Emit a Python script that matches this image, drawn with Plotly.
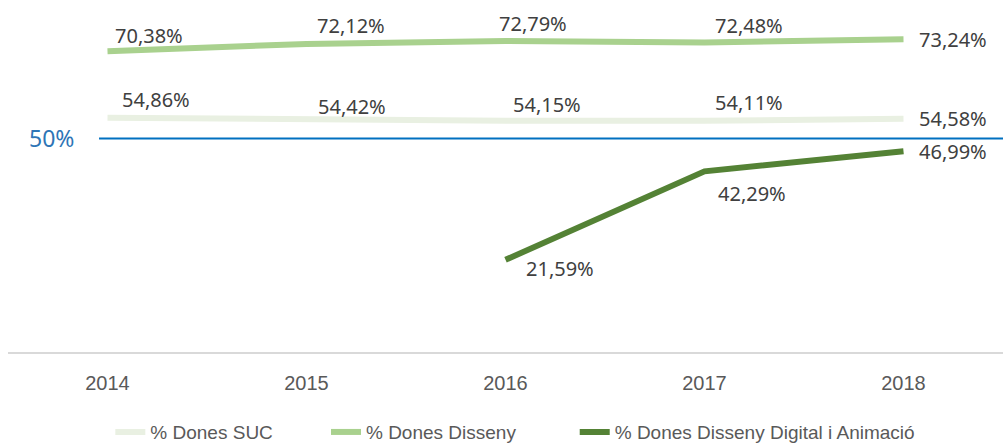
import plotly.graph_objects as go

years = ["2014", "2015", "2016", "2017", "2018"]
suc = [54.86, 54.42, 54.15, 54.11, 54.58]
disseny = [70.38, 72.12, 72.79, 72.48, 73.24]
digital = [None, None, 21.59, 42.29, 46.99]
threshold = 50

def fmt(v):
    return f"{v:.2f}".replace(".", ",") + "%"

fig = go.Figure()

# name, values, colour, legend id, legend left edge (container), label offsets
series = [
    ("% Dones SUC", suc, "#e9f0e2", "legend", 0.110,
     [(12, 18), (9, 13), (5, 16), (8, 18), (13, 0)]),
    ("% Dones Disseny", disseny, "#a9d18e", "legend2", 0.325,
     [(5, 16), (8, 18), (-9, 18), (8, 17), (13, 0)]),
    ("% Dones Disseny Digital i Animació", digital, "#548235", "legend3", 0.573,
     [None, None, (18, -9), (11, -22), (13, 0)]),
]

legends = {}
for name, vals, color, leg, lx, offs in series:
    fig.add_trace(go.Scatter(x=years, y=vals, name=name, mode="lines", legend=leg,
                             line=dict(color=color, width=6), hoverinfo="skip"))
    legends[leg] = dict(orientation="h", xref="container", x=lx, xanchor="left",
                        yref="container", y=0.029, yanchor="middle",
                        font=dict(size=19, color="#595959", family="Liberation Sans"),
                        bgcolor="rgba(0,0,0,0)")
    # data labels, x given as category index (years look numeric)
    for i, (v, off) in enumerate(zip(vals, offs)):
        if v is None:
            continue
        fig.add_annotation(x=i, y=v, text=fmt(v), showarrow=False,
                           xanchor="left", yanchor="middle",
                           xshift=off[0], yshift=off[1],
                           font=dict(size=20, color="#404040", family="Noto Sans"))

# 50% reference line
fig.add_shape(type="line", xref="paper", yref="y", x0=0.0915, x1=1, y0=threshold, y1=threshold,
              line=dict(color="#0070c0", width=2))
fig.add_annotation(x=0.068, xref="paper", y=threshold, yref="y", text=f"{threshold}%",
                   showarrow=False, xanchor="right", yanchor="middle",
                   font=dict(size=23, color="#2e75b6", family="Noto Sans"))

fig.update_layout(
    width=1003, height=445,
    margin=dict(l=8, r=0, t=0, b=93),
    plot_bgcolor="white", paper_bgcolor="white",
    font=dict(family="Liberation Sans", color="#595959"),
    showlegend=True,
    **legends,
)
fig.update_xaxes(type="category", range=[-0.5, 4.5], showgrid=False, zeroline=False,
                 showline=True, linecolor="#d9d9d9", linewidth=2, ticks="",
                 tickfont=dict(size=20, color="#595959", family="Liberation Sans"),
                 ticklabelstandoff=12)
fig.update_yaxes(range=[0, 82.4], visible=False, showgrid=False, zeroline=False)

fig.write_html("out.html", config={"displayModeBar": False},
               post_script="document.body.style.margin='0';")
